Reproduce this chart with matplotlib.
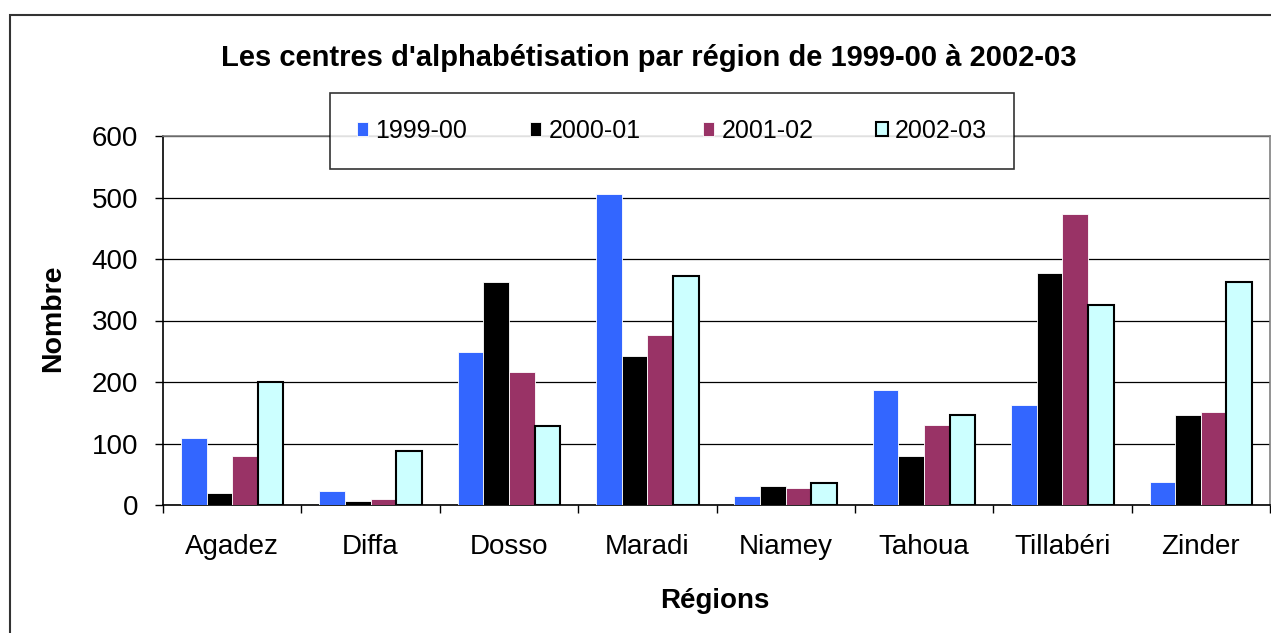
import matplotlib
matplotlib.use("Agg")
import matplotlib.pyplot as plt
import numpy as np
from matplotlib.patches import Rectangle

plt.rcParams['font.family'] = ['Liberation Sans', 'DejaVu Sans']

regions = ["Agadez", "Diffa", "Dosso", "Maradi", "Niamey", "Tahoua", "Tillabéri", "Zinder"]
years = ["1999-00", "2000-01", "2001-02", "2002-03"]
v_1999_00 = [109, 23, 249, 506, 14, 187, 163, 38]
v_2000_01 = [19, 7, 362, 243, 31, 79, 378, 147]
v_2001_02 = [79, 10, 216, 276, 28, 130, 473, 151]
v_2002_03 = [200, 87, 129, 373, 36, 146, 326, 362]
series = [v_1999_00, v_2000_01, v_2001_02, v_2002_03]
colors = ["#3366FF", "#000000", "#993366", "#CCFFFF"]
edges = ["white", "white", "white", "black"]
edge_w = [0.6, 0.6, 0.6, 1.5]
yticks = [0, 100, 200, 300, 400, 500, 600]

W, H = 1271, 633
fig = plt.figure(figsize=(W / 100, H / 100), dpi=100)

# outer chart frame
fig.patches.append(Rectangle((10 / W, -0.1), 1.2, 1 - 15 / H + 0.1,
                             transform=fig.transFigure, fill=False,
                             edgecolor="#333333", lw=1.5, zorder=0))

ax = fig.add_axes([163 / W, 1 - 505 / H, (1270 - 163) / W, (505 - 136) / H])

x = np.arange(len(regions))
bw = 0.185
for i, (vals, c, ec, lw, lab) in enumerate(zip(series, colors, edges, edge_w, years)):
    ax.bar(x + (i - 1.5) * bw, vals, width=bw, color=c, edgecolor=ec,
           linewidth=lw, label=lab, zorder=3)

ax.set_xlim(-0.5, len(regions) - 0.5)
ax.set_ylim(0, 600)
ax.set_yticks(yticks)
ax.yaxis.grid(True, color="black", lw=0.9, zorder=0)
ax.set_axisbelow(True)

ax.set_xticks(x)
ax.set_xticklabels(regions)
ax.set_xticks(np.arange(len(regions) + 1) - 0.5, minor=True)
ax.tick_params(axis="x", which="major", length=0, pad=21, labelsize=20)
ax.tick_params(axis="x", which="minor", length=6, width=1, direction="out")
ax.tick_params(axis="y", length=6, width=1, direction="out", pad=12, labelsize=20)

for s in ["top", "right"]:
    ax.spines[s].set_color("#808080")
    ax.spines[s].set_linewidth(1.2)
ax.spines["left"].set_color("black")
ax.spines["bottom"].set_color("black")
ax.spines["left"].set_linewidth(1.2)
ax.spines["bottom"].set_linewidth(1.2)

fig.text(649 / W, 1 - 66 / H, "Les centres d'alphabétisation par région de 1999-00 à 2002-03",
         ha="center", va="baseline", fontsize=21, fontweight="bold")
fig.text(715 / W, 1 - 601 / H, "Régions", ha="center", va="center",
         fontsize=20, fontweight="bold")
fig.text(53 / W, 1 - 318 / H, "Nombre", ha="center", va="center",
         fontsize=20.5, fontweight="bold", rotation=90)

leg = fig.legend(loc="center", bbox_to_anchor=((334 + 1004) / 2 / W + 3 / W, 1 - 131 / H),
                 ncol=4, frameon=True, fancybox=False, fontsize=18,
                 handlelength=0.45, handleheight=0.45, handletextpad=0.3,
                 columnspacing=2.5, borderpad=1.05, borderaxespad=0)
leg.get_frame().set_edgecolor("black")
leg.get_frame().set_linewidth(1.2)

fig.savefig("out.png", dpi=100)
